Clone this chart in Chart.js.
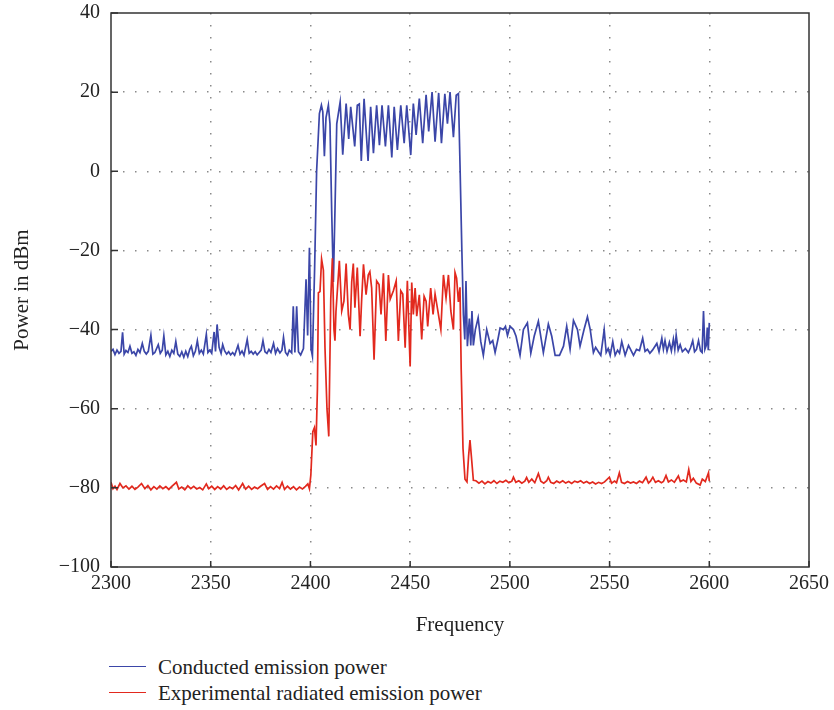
<!DOCTYPE html>
<html>
<head>
<meta charset="utf-8">
<script src="https://cdn.jsdelivr.net/npm/chart.js@4.4.1/dist/chart.umd.min.js"></script>
<style>
  html, body { margin: 0; padding: 0; background: #fff; }
  #wrap { position: relative; width: 834px; height: 710px; }
  #chart { position: absolute; left: 0; top: 0; }
  .leg { position: absolute; left: 109px; height: 24px; font: 21px "Liberation Serif", serif; color: #222; }
  .leg span.line { position: absolute; left: 0; top: 11px; width: 37px; height: 0; border-top: 1.6px solid; }
  .leg span.txt { position: absolute; left: 49px; top: 0; line-height: 24px; white-space: nowrap; }
</style>
</head>
<body>
<div id="wrap">
  <canvas id="chart" width="834" height="640"></canvas>
  <div class="leg" style="top:655px"><span class="line" style="border-color:#3b46a8"></span><span class="txt">Conducted emission power</span></div>
  <div class="leg" style="top:681px"><span class="line" style="border-color:#e2291e"></span><span class="txt">Experimental radiated emission power</span></div>
</div>
<script>
// tick values
const xTicks = [2300, 2350, 2400, 2450, 2500, 2550, 2600, 2650];
const yTicks = [-100, -80, -60, -40, -20, 0, 20, 40];

// conducted emission (blue)
const conductedFreq = [
  2300, 2301, 2302, 2303, 2304, 2305, 2305.8, 2306.6, 2307.5, 2308.5, 2309.5, 2310.5, 2311.5, 2312.5, 2313.5, 2314.5,
  2315.7, 2316.7, 2317.7, 2318.7, 2320, 2321, 2322, 2323.7, 2324.7, 2325.7, 2326.5, 2327.5, 2328.5, 2329.5, 2330.5,
  2331.5, 2332.5, 2333.5, 2334.5, 2335.5, 2336.5, 2337.5, 2338.5, 2339.5, 2340.3, 2341.3, 2342.3, 2343.3, 2344.3,
  2345.3, 2346.3, 2347.8, 2348.6, 2349.5, 2350.5, 2351.7, 2352.4, 2353.2, 2354.2, 2355.2, 2356, 2357, 2358, 2359,
  2360, 2361, 2362, 2363.7, 2364.7, 2365.7, 2366.7, 2368.3, 2369.3, 2370.3, 2371.3, 2372.3, 2373.3, 2374.3, 2375.3,
  2376.2, 2377.2, 2378.2, 2379.2, 2380.2, 2381.5, 2382.5, 2383.5, 2384.7, 2385.7, 2386.5, 2387.5, 2388.5, 2389.4,
  2390.6, 2391.4, 2392.2, 2393.1, 2394, 2395.1, 2396.5, 2397.8, 2398.6, 2399.5, 2400.3, 2401, 2402.1, 2403.1,
  2404.5, 2405.5, 2406.2, 2407, 2407.8, 2409, 2409.8, 2410.7, 2411.5, 2412.3, 2413.2, 2414.9, 2416.2, 2417.9,
  2419.2, 2420.2, 2422.2, 2423.5, 2424.5, 2425.5, 2426.9, 2428.9, 2430.2, 2431.6, 2433.2, 2434.6, 2435.9, 2437.6,
  2439.1, 2440.8, 2442, 2443.6, 2445.3, 2447, 2448.3, 2450.3, 2451.6, 2453, 2454.6, 2456.3, 2458, 2459.3, 2461,
  2462.5, 2464.3, 2465.7, 2467.4, 2468.7, 2470, 2471.7, 2473.1, 2474.2, 2475, 2475.9, 2476.7, 2477.4, 2478, 2478.7,
  2479.7, 2480.4, 2481, 2481.7, 2482.7, 2484.1, 2485.4, 2486.7, 2488.4, 2490.1, 2491.4, 2492.6, 2494, 2495.1,
  2496.8, 2497.8, 2498.8, 2500.1, 2501.8, 2503.1, 2505.1, 2506.8, 2508.8, 2510.5, 2512.2, 2514.3, 2516.8, 2519.3,
  2521, 2522.7, 2524.9, 2526.9, 2528.5, 2530.2, 2531.9, 2533.9, 2535.2, 2537.2, 2538.9, 2540.3, 2541.9, 2543,
  2544.4, 2545.6, 2547.3, 2548.3, 2549.3, 2550.3, 2551.6, 2552.8, 2554, 2555, 2556.1, 2557.8, 2559.5, 2561, 2562,
  2563.5, 2565, 2566.6, 2567.8, 2569, 2570.2, 2571.5, 2573.7, 2574.8, 2576.2, 2577, 2577.8, 2578.8, 2580, 2581,
  2582, 2582.7, 2583.4, 2584.4, 2585.4, 2586.5, 2588, 2589.5, 2590.6, 2591.7, 2592.6, 2593.6, 2594.6, 2595.6,
  2596.4, 2597.1, 2597.8, 2598.5, 2599, 2599.5, 2600
];
const conductedPower = [
  -45.5, -45.0, -46.3, -45.2, -46.0, -45.5, -40.7, -46.2, -45.3, -45.8, -44.2, -46.0, -45.6, -46.5, -45.0, -45.8,
  -43.5, -45.5, -46.2, -45.5, -41.4, -46.2, -45.8, -43.8, -46.0, -45.2, -41.6, -46.4, -45.5, -46.8, -45.2,
  -46.0, -43.0, -46.2, -46.8, -45.6, -47.0, -45.5, -46.8, -45.0, -44.2, -46.6, -45.5, -42.8, -46.0,
  -45.2, -46.2, -41.2, -45.8, -45.2, -46.0, -40.6, -45.5, -38.7, -44.5, -46.0, -43.8, -45.4, -46.2, -45.6,
  -46.4, -45.8, -46.5, -44.0, -46.2, -45.4, -46.5, -42.5, -46.0, -45.5, -46.2, -45.6, -46.4, -45.8, -45.2,
  -42.8, -45.6, -46.0, -45.0, -45.8, -43.5, -46.0, -44.8, -45.9, -45.2, -42.0, -45.8, -46.5, -45.2,
  -45.9, -34.1, -45.8, -34.1, -45.6, -46.4, -44.8, -27.3, -41.5, -19.3, -44.8, -46.7, -24.6, 0.0,
  14.6, 16.7, 15.0, 3.8, 13.5, 16.7, 12.0, -11.0, -28.0, -10.0, 12.0, 17.5, 4.2, 17.1,
  8.2, 16.3, 6.3, 16.7, 17.0, 2.6, 18.3, 2.6, 16.3, 4.6, 16.7, 6.6, 16.7, 6.3,
  16.7, 3.5, 16.3, 5.4, 16.7, 7.1, 16.7, 4.1, 17.1, 9.2, 18.4, 7.1, 19.3, 10.1, 20.0,
  7.5, 19.8, 7.1, 19.6, 12.0, 20.0, 8.6, 19.2, 19.6, 1.7, -19.3, -36.2, -42.5, -27.7, -44.2,
  -37.2, -44.0, -35.3, -44.0, -40.0, -37.0, -43.0, -46.5, -40.0, -43.5, -42.8, -45.8, -42.5, -39.6,
  -40.0, -39.2, -41.5, -39.2, -40.0, -41.7, -46.5, -40.0, -38.3, -46.0, -41.7, -37.9, -45.8, -38.6,
  -41.7, -46.5, -46.5, -44.2, -39.2, -45.0, -37.7, -40.0, -44.2, -40.0, -36.8, -40.0, -45.8, -44.5,
  -45.6, -46.5, -40.0, -45.8, -44.8, -46.5, -43.0, -46.5, -45.2, -46.0, -43.0, -46.5, -44.0, -45.5, -46.5,
  -45.0, -45.3, -42.2, -45.5, -45.0, -46.0, -45.2, -43.5, -45.6, -42.2, -45.0, -42.8, -45.5, -43.2, -45.4,
  -42.4, -45.0, -41.4, -45.2, -43.8, -45.6, -44.8, -45.8, -44.6, -42.8, -45.6, -45.0, -42.8, -45.4,
  -45.8, -35.3, -45.0, -44.0, -39.5, -45.2, -38.3
];

// experimental radiated emission (red)
const radiatedFreq = [
  2300, 2301, 2302, 2303, 2304.5, 2306, 2307.5, 2309, 2310.5, 2312, 2313.5, 2315.3, 2317, 2318.5, 2320, 2321.5,
  2323, 2324.5, 2326, 2327.5, 2329, 2330.5, 2332.8, 2334, 2335.5, 2337, 2338.5, 2340, 2341.5, 2343, 2344.5, 2346,
  2347.8, 2349, 2350.5, 2352, 2353.5, 2355, 2356.5, 2358, 2359.5, 2361, 2362.5, 2364, 2366, 2367.5, 2369, 2370.5,
  2372, 2373.5, 2375, 2377, 2378.5, 2380, 2381.5, 2383, 2384.5, 2385.8, 2387, 2388.5, 2390, 2391.5, 2393, 2394.5,
  2396, 2397.5, 2398.7, 2399.5, 2400.2, 2401.2, 2402, 2402.8, 2403.5, 2404, 2404.8, 2405.6, 2406.5, 2407.3, 2408.3,
  2409.2, 2410.2, 2411, 2411.8, 2412.3, 2412.8, 2413.5, 2414.5, 2415.7, 2416.8, 2417.9, 2419, 2419.9, 2420.7, 2421.5,
  2422.3, 2423.5, 2424.9, 2425.7, 2426.6, 2427.9, 2429, 2429.8, 2430.7, 2431.9, 2433.2, 2434.4, 2435.4, 2436.6,
  2437.8, 2439.1, 2440, 2441.6, 2443, 2444.1, 2445.3, 2446.3, 2447.5, 2448.6, 2450, 2450.8, 2451.6, 2452.5, 2453.3,
  2454.6, 2455.8, 2457, 2458, 2458.8, 2460.3, 2461.5, 2462.5, 2464.2, 2465.4, 2466.7, 2468, 2469.2, 2470.4, 2471.7,
  2472.5, 2473.3, 2474.2, 2475, 2475.6, 2476.5, 2477.5, 2478.5, 2479.3, 2480, 2480.7, 2481.7, 2483, 2484.5, 2486,
  2487.5, 2489, 2490.5, 2492, 2493.5, 2495, 2496.5, 2498, 2499.5, 2501, 2501.8, 2503, 2504.5, 2506, 2507.5, 2508.4,
  2509.5, 2511, 2512.5, 2514.3, 2515.5, 2517, 2518.5, 2519.3, 2520.5, 2522, 2523.5, 2525, 2526.5, 2528, 2529.5, 2531,
  2532.5, 2534, 2535.5, 2537, 2538.5, 2540, 2541.5, 2543, 2544.5, 2546, 2547.5, 2549.9, 2551, 2552.5, 2553.5, 2554.9,
  2556, 2557.5, 2559, 2560.5, 2562, 2563.5, 2565, 2566.5, 2568.3, 2569.5, 2570.5, 2571.7, 2573, 2574.5, 2576, 2577,
  2578.3, 2579.5, 2581, 2582.5, 2584.5, 2585.5, 2587, 2588.5, 2589.7, 2590.8, 2592, 2593.5, 2595.4, 2596.5, 2598,
  2599.6, 2600
];
const radiatedPower = [
  -78.6, -80.2, -79.6, -80.4, -78.9, -80.0, -79.5, -80.3, -79.6, -80.4, -79.8, -78.9, -80.2, -79.4, -80.5, -79.7,
  -80.3, -79.5, -80.2, -79.7, -80.4, -79.6, -78.6, -80.3, -79.8, -80.5, -79.5, -80.2, -79.6, -80.3, -79.9, -80.5,
  -79.0, -80.2, -79.6, -80.4, -79.7, -80.3, -79.5, -80.4, -79.8, -80.2, -79.4, -80.5, -78.9, -80.3, -79.6, -80.4,
  -79.8, -80.2, -79.6, -78.9, -80.4, -79.7, -80.3, -79.5, -80.2, -78.6, -80.4, -79.6, -80.3, -79.7, -80.5, -79.8,
  -80.3, -79.6, -79.0, -80.2, -76.8, -65.8, -64.8, -69.3, -55.0, -30.7, -30.4, -22.2, -25.0, -44.6, -60.0,
  -67.0, -32.3, -22.0, -40.0, -42.8, -35.5, -30.2, -22.6, -35.3, -32.8, -23.3, -36.2, -40.0, -28.0, -23.3,
  -34.5, -24.3, -41.7, -32.3, -23.5, -31.2, -26.2, -25.4, -29.5, -47.6, -27.7, -28.6, -36.2, -25.8,
  -42.9, -26.2, -32.3, -30.2, -27.7, -42.9, -30.2, -31.0, -44.6, -27.7, -49.3, -28.1, -36.2, -29.5, -36.6,
  -31.2, -42.5, -31.6, -32.8, -39.2, -29.5, -36.2, -31.0, -36.2, -40.0, -26.2, -32.0, -26.2, -35.3, -40.0,
  -25.6, -27.0, -33.0, -29.3, -50.0, -70.0, -77.8, -78.5, -72.0, -67.9, -72.0, -78.1, -78.2, -78.8, -78.3,
  -79.0, -78.4, -78.8, -78.2, -78.9, -78.3, -78.6, -78.1, -78.7, -78.3, -77.3, -78.6, -78.2, -78.8, -78.3, -77.4,
  -78.6, -77.8, -78.7, -76.4, -78.3, -78.8, -78.2, -77.3, -78.6, -78.9, -78.3, -78.7, -78.2, -78.8, -78.4, -78.9,
  -78.3, -78.6, -78.2, -78.8, -78.4, -78.9, -78.5, -79.0, -78.6, -78.9, -78.5, -77.3, -78.8, -78.3, -78.7, -76.2,
  -78.6, -78.9, -78.4, -78.8, -78.5, -78.9, -78.3, -78.7, -77.3, -78.8, -78.3, -77.3, -78.6, -78.2, -78.7, -78.4,
  -76.9, -78.5, -78.0, -78.6, -77.0, -78.4, -78.0, -78.5, -75.4, -78.4, -77.6, -78.8, -79.3, -77.8, -78.4,
  -76.2, -78.3
];

const blue = '#3b46a8';
const red = '#e2291e';
const tickFont = { family: 'Liberation Serif', size: 20 };
const titleFont = { family: 'Liberation Serif', size: 21 };

const toPoints = (xs, ys) => xs.map((x, i) => ({ x: x, y: ys[i] }));

// frame around the plot plus short inward ticks on left and bottom
const framePlugin = {
  id: 'frame',
  afterDraw(chart) {
    const { ctx, chartArea: a, scales } = chart;
    ctx.save();
    ctx.strokeStyle = '#333';
    ctx.lineWidth = 1.5;
    ctx.beginPath();
    xTicks.forEach(v => {
      const px = scales.x.getPixelForValue(v);
      ctx.moveTo(px, a.bottom);
      ctx.lineTo(px, a.bottom - 6);
    });
    yTicks.forEach(v => {
      const py = scales.y.getPixelForValue(v);
      ctx.moveTo(a.left, py);
      ctx.lineTo(a.left + 7, py);
    });
    ctx.stroke();
    ctx.strokeRect(a.left, a.top, a.right - a.left, a.bottom - a.top);
    ctx.restore();
  }
};

const gridColor = (ctx) => {
  const s = ctx.scale;
  if (!ctx.tick) return 'rgba(0,0,0,0)';
  return (ctx.tick.value === s.min || ctx.tick.value === s.max) ? 'rgba(0,0,0,0)' : '#8a8a8a';
};

new Chart(document.getElementById('chart'), {
  type: 'line',
  data: {
    datasets: [
      {
        label: 'Conducted emission power',
        data: toPoints(conductedFreq, conductedPower),
        borderColor: blue,
        borderWidth: 1.7,
        pointRadius: 0,
        tension: 0,
        order: 1
      },
      {
        label: 'Experimental radiated emission power',
        data: toPoints(radiatedFreq, radiatedPower),
        borderColor: red,
        borderWidth: 1.7,
        pointRadius: 0,
        tension: 0,
        order: 0
      }
    ]
  },
  options: {
    responsive: false,
    animation: false,
    layout: { padding: { left: 0, right: 25, top: 13, bottom: 0 } },
    plugins: { legend: { display: false }, tooltip: { enabled: false } },
    scales: {
      x: {
        type: 'linear',
        min: 2300,
        max: 2650,
        afterBuildTicks: (scale) => { scale.ticks = xTicks.map(v => ({ value: v })); },
        afterFit: (scale) => { scale.height = 73; },
        ticks: {
          font: tickFont,
          color: '#222',
          padding: 5,
          maxRotation: 0,
          callback: (v) => String(v)
        },
        grid: { color: gridColor, lineWidth: 1.5, drawTicks: false },
        border: { display: false, dash: [1.5, 10.5] },
        title: { display: true, text: 'Frequency', font: titleFont, color: '#222', padding: { top: 4, bottom: 2 } }
      },
      y: {
        min: -100,
        max: 40,
        afterBuildTicks: (scale) => { scale.ticks = yTicks.map(v => ({ value: v })); },
        afterFit: (scale) => {
          scale.width = 111;
          scale.paddingTop = 0;
          scale.paddingBottom = 0;
        },
        ticks: {
          font: tickFont,
          color: '#222',
          padding: 11,
          callback: (v) => (v < 0 ? '\u2212' + Math.abs(v) : String(v))
        },
        grid: { color: gridColor, lineWidth: 1.5, drawTicks: false },
        border: { display: false, dash: [1.5, 10.5] },
        title: { display: true, text: 'Power in dBm', font: titleFont, color: '#222', padding: { top: 10, bottom: 4 } }
      }
    }
  },
  plugins: [framePlugin]
});
</script>
</body>
</html>
